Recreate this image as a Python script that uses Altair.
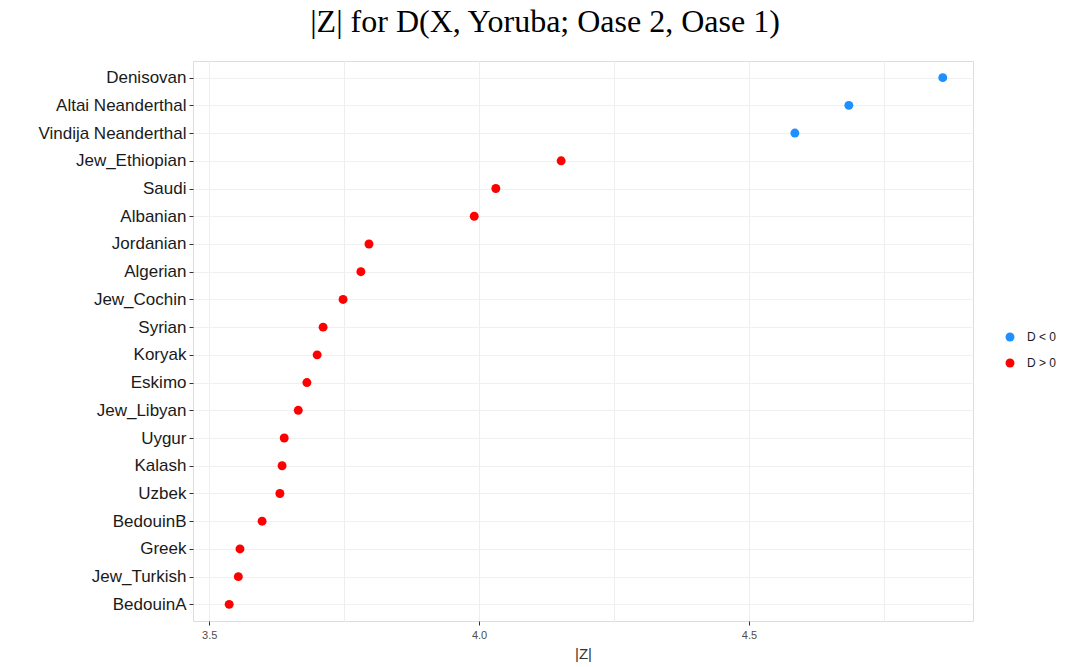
import altair as alt
import pandas as pd

# |Z| scores for D(X, Yoruba; Oase 2, Oase 1), ordered from largest to smallest
populations = [
    "Denisovan", "Altai Neanderthal", "Vindija Neanderthal", "Jew_Ethiopian",
    "Saudi", "Albanian", "Jordanian", "Algerian", "Jew_Cochin", "Syrian",
    "Koryak", "Eskimo", "Jew_Libyan", "Uygur", "Kalash", "Uzbek",
    "BedouinB", "Greek", "Jew_Turkish", "BedouinA",
]
abs_z = [
    4.859, 4.685, 4.585, 4.152,
    4.031, 3.991, 3.796, 3.781, 3.748, 3.711,
    3.700, 3.681, 3.665, 3.639, 3.635, 3.631,
    3.598, 3.557, 3.554, 3.537,
]
d_sign = ["D < 0"] * 3 + ["D > 0"] * 17

sign_levels = ["D < 0", "D > 0"]
sign_colors = ["#1E90FF", "#FF0000"]

x_grid_values = [3.5, 3.75, 4.0, 4.25, 4.5, 4.75]

df = pd.DataFrame({"population": populations, "absZ": abs_z, "sign": d_sign})

major = "datum.value % 0.5 == 0"

chart = (
    alt.Chart(df)
    .mark_circle(size=80, opacity=1)
    .encode(
        x=alt.X(
            "absZ:Q",
            title="|Z|",
            scale=alt.Scale(domain=[3.47, 4.915], nice=False, zero=False),
            axis=alt.Axis(
                values=x_grid_values,
                labelExpr=f"{major} ? format(datum.value, '.1f') : ''",
                labelFont="Liberation Sans",
                labelFontSize=11,
                labelColor="#4D4D4D",
                labelPadding=4,
                tickColor={"condition": {"test": major, "value": "#333333"}, "value": "transparent"},
                tickSize=4,
                domain=False,
                grid=True,
                gridColor="#EEEEEE",
                gridWidth=1,
                titleFont="Liberation Sans",
                titleFontSize=15,
                titleFontWeight="normal",
                titleColor="#333333",
                titlePadding=6,
            ),
        ),
        y=alt.Y(
            "population:N",
            sort=populations,
            title=None,
            scale=alt.Scale(padding=0.6),
            axis=alt.Axis(
                labelFont="Liberation Sans",
                labelFontSize=17,
                labelColor="#1A1A1A",
                labelPadding=3,
                tickColor="#333333",
                tickSize=4,
                domain=False,
                grid=True,
                gridColor="#F0F0F0",
                gridWidth=1,
            ),
        ),
        color=alt.Color(
            "sign:N",
            scale=alt.Scale(domain=sign_levels, range=sign_colors),
            legend=alt.Legend(
                title=None,
                orient="none",
                legendX=811,
                legendY=270,
                padding=0,
                symbolType="circle",
                symbolSize=80,
                symbolStrokeWidth=0,
                labelFont="Liberation Sans",
                labelFontSize=12,
                labelColor="#1A1A1A",
                labelOffset=11,
                rowPadding=14,
            ),
        ),
    )
    .properties(
        width=780,
        height=560,
        padding={"left": 37, "top": 6, "right": 5, "bottom": 5},
        title=alt.TitleParams(
            "|Z| for D(X, Yoruba; Oase 2, Oase 1)",
            font="Liberation Serif",
            fontSize=32,
            fontWeight="normal",
            color="#000000",
            anchor="middle",
            offset=22,
            dx=-38,
        ),
    )
    .configure_view(stroke="#BDBDBD", strokeWidth=1.5)
    .configure(background="white")
)

chart.save("out.html", embed_options={"renderer": "svg", "actions": False})
